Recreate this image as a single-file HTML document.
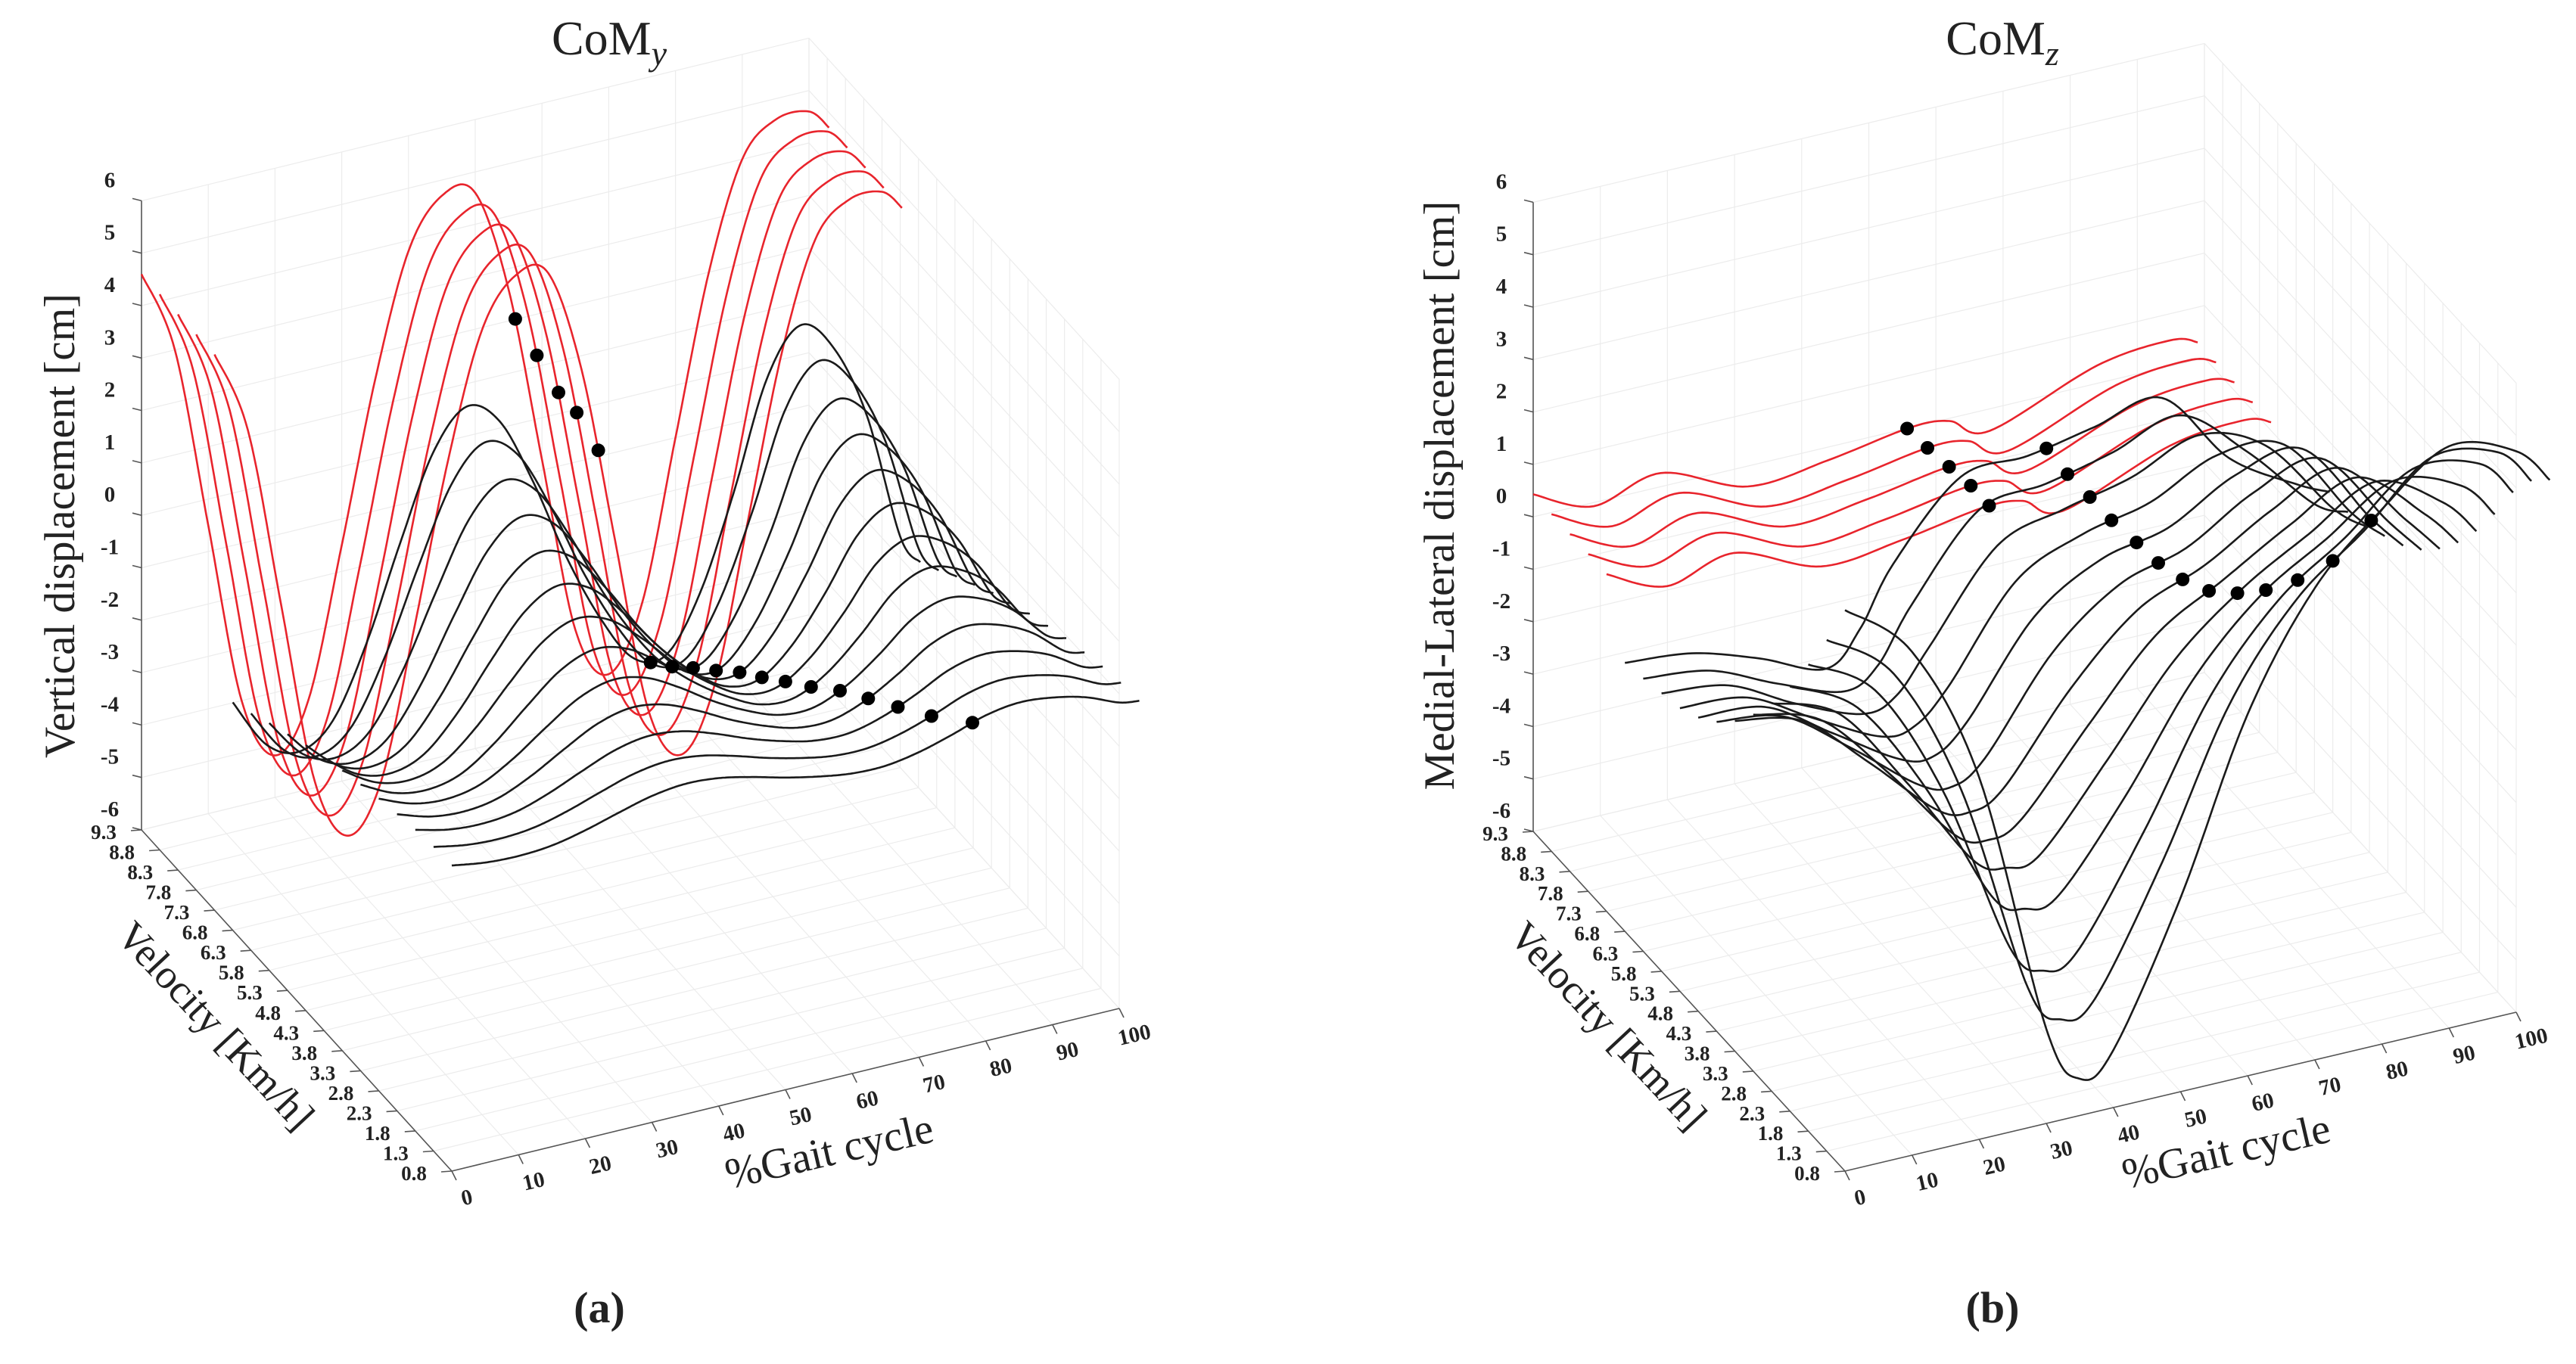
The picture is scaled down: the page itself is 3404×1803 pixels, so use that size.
<!DOCTYPE html>
<html><head><meta charset="utf-8"><style>
html,body{margin:0;padding:0;background:#fff;}
svg{display:block;}
text{font-family:"Liberation Serif","DejaVu Serif",serif;fill:#222;}
</style></head>
<body>
<svg id="fig" xmlns="http://www.w3.org/2000/svg" width="3404" height="1803" viewBox="0 0 3404 1803">
<rect x="0" y="0" width="3404" height="1803" fill="#fff"/>
<g id="plotA"></g>
<g id="plotB"></g>
<text x="805" y="72" font-size="64" text-anchor="middle">CoM<tspan font-style="italic" font-size="46" dy="14">y</tspan></text>
<text x="2646" y="72" font-size="64" text-anchor="middle">CoM<tspan font-style="italic" font-size="46" dy="14">z</tspan></text>
<text x="792" y="1748" font-size="58" font-weight="bold" text-anchor="middle">(a)</text>
<text x="2633" y="1748" font-size="58" font-weight="bold" text-anchor="middle">(b)</text>
</svg>
<script>
// ---------- shared axis data ----------
const velocities=[0.8,1.3,1.8,2.3,2.8,3.3,3.8,4.3,4.8,5.3,5.8,6.3,6.8,7.3,7.8,8.3,8.8,9.3];
const velocityLabels=["0.8","1.3","1.8","2.3","2.8","3.3","3.8","4.3","4.8","5.3","5.8","6.3","6.8","7.3","7.8","8.3","8.8","9.3"];
const gaitTicks=[0,10,20,30,40,50,60,70,80,90,100];
const zTicks=[-6,-5,-4,-3,-2,-1,0,1,2,3,4,5,6];
const runStartIndex=13; // velocities >= 7.3 are running (red)

// ---------- CoM_y data ----------
const comyRedGait=[0,5,10,15,20,25,30,35,40,45,50,55,60,65,70,75,80,85,90,95,100,103];
const comyRedZ=[4.6,3.0,-0.5,-4.0,-5.2,-4.3,-1.5,1.5,3.8,4.7,4.6,2.6,-0.8,-4.2,-5.2,-4.0,-1.0,2.0,4.0,4.6,4.6,4.2];
const comyRedDotGait=[57.5,57,57,56.5,56];
const comyBlackGait=[0,5,10,15,20,25,30,35,40,45,50,55,60,65,70,75,80,85,90,95,100,103];
const comyBlackShape=[-0.57,-0.9,-1,-0.85,-0.4,0.2,0.75,1,0.85,0.4,-0.15,-0.6,-0.92,-0.95,-0.6,0,0.7,1,0.8,0.3,-0.55,-0.75];
const comyBlackAmp=[0.3,0.35,0.45,0.6,0.75,0.95,1.15,1.4,1.65,1.95,2.25,2.6,2.9];
const comyBlackDotGait=[78,74.6,72.3,70.6,69.1,67.5,66.4,65.6,65,64.2,63.5,63.1,62.6];

// ---------- CoM_z data ----------
const comzRedGait=[0,9,19,32,44,56,62,68,84,95,99];
const comzRedZ=[0.43,-0.07,0.26,-0.39,-0.25,0.0,-0.05,-0.42,0.34,0.49,0.33];
const comzRedDotGait=[57,57,56.5,56,55.7];
const comzBlackGait=[0,10,20,30,35,40,50,60,70,80,90,100,105];
const comzV08=[4.7,3.6,0.9,-4.2,-5.3,-4.9,-2.3,0.9,3.0,4.2,5.1,4.7,4.0];
const comzV13=[3.75,2.8,0.3,-3.8,-4.55,-4.3,-2.0,0.7,2.4,3.4,4.5,4.3,3.6];
const comzV18=[2.9,2.1,-0.1,-3.4,-4.0,-3.8,-1.8,0.5,2.0,2.9,3.9,3.7,3.0];
const comzV23=[2.1,1.4,-0.4,-2.8,-3.2,-3.1,-1.5,0.4,1.7,2.5,3.3,2.9,2.2];
const comzV28=[1.4,0.9,-0.7,-2.5,-2.8,-2.7,-1.2,0.4,1.45,2.2,2.9,2.2,1.5];
const comzV33=[0.8,0.4,-0.9,-2.4,-2.65,-2.4,-0.9,0.5,1.25,2.0,2.6,1.6,0.9];
const comzV38=[0.3,0.0,-1.1,-2.3,-2.5,-2.2,-0.6,0.6,1.15,1.9,2.4,1.1,0.4];
const comzV43=[-0.1,-0.3,-1.2,-2.2,-2.4,-2.0,-0.3,0.7,1.1,1.85,2.2,0.7,0.0];
const comzV48=[-0.4,-0.5,-1.3,-2.1,-2.2,-1.7,0.0,0.8,1.1,1.8,2.0,0.4,-0.3];
const comzV53=[-0.6,-0.7,-1.4,-2.05,-2.0,-1.4,0.3,0.9,1.2,1.8,1.7,0.1,-0.5];
const comzV58=[-0.7,-0.85,-1.5,-2.0,-1.8,-1.0,0.6,1.0,1.3,1.8,1.3,-0.2,-0.7];
const comzV63=[-0.8,-0.95,-1.5,-1.95,-1.6,-0.6,0.9,1.1,1.4,1.8,0.8,-0.5,-0.8];
const comzV68=[-0.88,-1.0,-1.4,-1.9,-1.3,-0.2,1.15,1.25,1.5,1.75,0.3,-0.5,-0.8];
const comzBlackDotGait=[78.4,75.4,72.9,70.9,69.4,67.9,66.7,65.8,65.3,64.3,63.8,63.2,62.8];

const NS="http://www.w3.org/2000/svg";
function mk(tag,attrs,parent){const e=document.createElementNS(NS,tag);for(const k in attrs)e.setAttribute(k,attrs[k]);parent.appendChild(e);return e;}

function catmull(gs,zs){
  const pts=gs.map((g,i)=>[g,zs[i]]);const out=[];
  for(let i=0;i<pts.length-1;i++){
    const p0=pts[Math.max(0,i-1)],p1=pts[i],p2=pts[i+1],p3=pts[Math.min(pts.length-1,i+2)];
    for(let s=0;s<16;s++){const t=s/16,t2=t*t,t3=t2*t;
      const f=(a,b,c,d)=>0.5*((2*b)+(-a+c)*t+(2*a-5*b+4*c-d)*t2+(-a+3*b-3*c+d)*t3);
      out.push([f(p0[0],p1[0],p2[0],p3[0]),f(p0[1],p1[1],p2[1],p3[1])]);}
  }
  out.push(pts[pts.length-1]);return out;
}
function zAt(dense,g){
  for(let i=0;i<dense.length-1;i++){const a=dense[i],b=dense[i+1];
    if((a[0]<=g&&b[0]>=g)){const t=(g-a[0])/((b[0]-a[0])||1);return a[1]+t*(b[1]-a[1]);}}
  return dense[dense.length-1][1];
}

function drawPlot(root,cfg){
  const vMin=velocities[0],vMax=velocities[velocities.length-1];
  const P=(g,v,z)=>{const t=(v-vMin)/(vMax-vMin);
    return [cfg.FL[0]+g/100*(cfg.FR[0]-cfg.FL[0])+t*(cfg.BL[0]-cfg.FL[0]),
            cfg.FL[1]+g/100*(cfg.FR[1]-cfg.FL[1])+t*(cfg.BL[1]-cfg.FL[1])-(z+6)*cfg.unit];};
  const grid=mk('g',{stroke:'#ececec','stroke-width':1.2,fill:'none'},root);
  
  
  const line=(a,b,par)=>mk('line',{x1:a[0].toFixed(1),y1:a[1].toFixed(1),x2:b[0].toFixed(1),y2:b[1].toFixed(1)},par);
  gaitTicks.forEach(g=>{
    const l1=line(P(g,vMin,-6),P(g,vMax,-6),grid);
    
    
    const l2=line(P(g,vMax,-6),P(g,vMax,6),grid);
    
    
  });
  velocities.forEach(v=>{
    const l1=line(P(0,v,-6),P(100,v,-6),grid);
    
    
    const l2=line(P(100,v,-6),P(100,v,6),grid);
    
    
  });
  zTicks.forEach(z=>{
    const l1=line(P(0,vMax,z),P(100,vMax,z),grid);
    
    
    const l2=line(P(100,vMin,z),P(100,vMax,z),grid);
    
    
  });
  const ax=mk('g',{stroke:'#555','stroke-width':1.6},root);
  
  
  const za=line(P(0,vMax,-6),P(0,vMax,6),ax);
  
  
  const va=line(P(0,vMax,-6),P(0,vMin,-6),ax);
  
  
  const ga=line(P(0,vMin,-6),P(100,vMin,-6),ax);
  
  
  zTicks.forEach(z=>{const p=P(0,vMax,z);
    const tk=line(p,[p[0]-12,p[1]-3],ax);
    
    
    const t=mk('text',{x:(p[0]-42).toFixed(1),y:(p[1]-18).toFixed(1),'font-size':29,'text-anchor':'middle','font-weight':'bold'},root);
    t.textContent=String(z);
    
    });
  velocities.forEach((v,i)=>{const p=P(0,v,-6);
    const tk=line(p,[p[0]-14,p[1]+1],ax);
    
    
    const t=mk('text',{x:(p[0]-50).toFixed(1),y:(p[1]+12).toFixed(1),'font-size':27,'text-anchor':'middle','font-weight':'bold'},root);
    t.textContent=velocityLabels[i];
    
    });
  gaitTicks.forEach(g=>{const p=P(g,vMin,-6);
    const tk=line(p,[p[0]+6,p[1]+12],ax);
    
    
    const x=p[0]+22,y=p[1]+44;
    const t=mk('text',{x:x.toFixed(1),y:y.toFixed(1),'font-size':29,'text-anchor':'middle','font-weight':'bold',transform:`rotate(-13 ${x.toFixed(1)} ${y.toFixed(1)})`},root);
    t.textContent=String(g);
    
    });
  const zt=mk('text',{x:cfg.zLab[0],y:cfg.zLab[1],'font-size':57,'text-anchor':'middle',transform:`rotate(-90 ${cfg.zLab[0]} ${cfg.zLab[1]})`},root);
  zt.textContent=cfg.zTitle;
  
  
  const vt=mk('text',{x:cfg.vLab[0],y:cfg.vLab[1],'font-size':54,'text-anchor':'middle',transform:`rotate(47 ${cfg.vLab[0]} ${cfg.vLab[1]})`},root);
  vt.textContent='Velocity [Km/h]';
  
  
  const gt=mk('text',{x:cfg.gLab[0],y:cfg.gLab[1],'font-size':57,'text-anchor':'middle',transform:`rotate(-13 ${cfg.gLab[0]} ${cfg.gLab[1]})`},root);
  gt.textContent='%Gait cycle';
  
  
  const curves=mk('g',{fill:'none','stroke-width':2.6,'stroke-linejoin':'round'},root);
  
  
  const dots=[];
  for(let i=velocities.length-1;i>=0;i--){
    const v=velocities[i];const s=cfg.series(i);
    const dense=catmull(s.g,s.z);
    const d=dense.map((q,k)=>{const p=P(q[0],v,q[1]);return (k?'L':'M')+p[0].toFixed(1)+' '+p[1].toFixed(1);}).join('');
    const path=mk('path',{d:d,stroke:i>=runStartIndex?'#e8242c':'#1a1a1a'},curves);
    
    
    const dp=P(s.dot,v,zAt(dense,s.dot));dots.push(dp);
  }
  dots.forEach(dp=>{
    const c=mk('circle',{cx:dp[0].toFixed(1),cy:dp[1].toFixed(1),r:9,fill:'#000'},root);
    
    
  });
}

const comzBlack=[comzV08,comzV13,comzV18,comzV23,comzV28,comzV33,comzV38,comzV43,comzV48,comzV53,comzV58,comzV63,comzV68];

drawPlot(document.getElementById('plotA'),{
  FL:[597,1548],BL:[187,1097],FR:[1479,1333],unit:69.3,
  zTitle:'Vertical displacement [cm]',zLab:[98,695],vLab:[272,1368],gLab:[1100,1540],
  series:i=>i>=runStartIndex?{g:comyRedGait,z:comyRedZ,dot:comyRedDotGait[i-runStartIndex]}
    :{g:comyBlackGait,z:comyBlackShape.map(s=>s*comyBlackAmp[i]),dot:comyBlackDotGait[i]}
});
drawPlot(document.getElementById('plotB'),{
  FL:[2438,1548],BL:[2026,1099],FR:[3325,1338],unit:69.3,
  zTitle:'Medial-Lateral displacement [cm]',zLab:[1921,655],vLab:[2112,1368],gLab:[2946,1540],
  series:i=>i>=runStartIndex?{g:comzRedGait,z:comzRedZ,dot:comzRedDotGait[i-runStartIndex]}
    :{g:comzBlackGait,z:comzBlack[i],dot:comzBlackDotGait[i]}
});
</script>
</body></html>
